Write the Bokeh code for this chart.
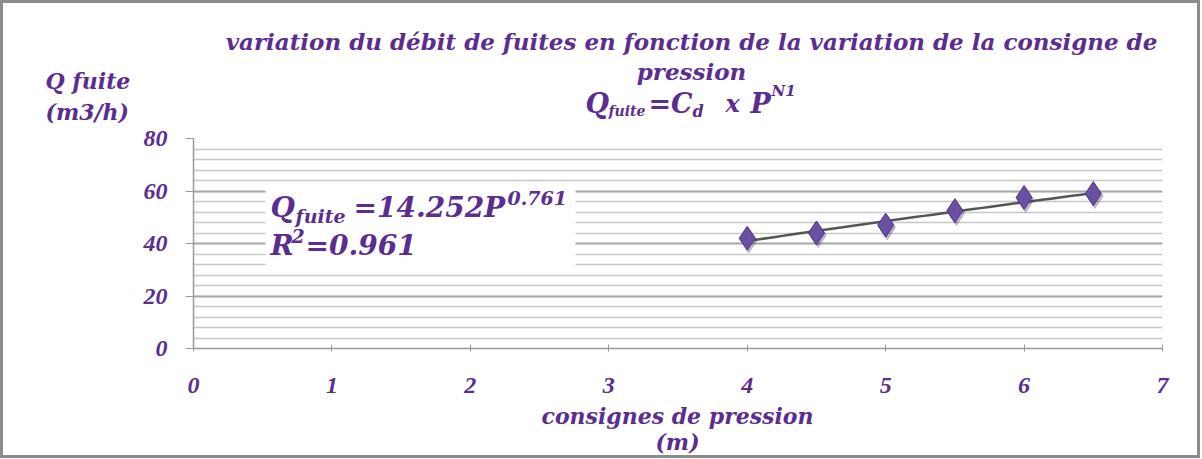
from bokeh.plotting import figure
from bokeh.layouts import column
from bokeh.models import Label, BoxAnnotation, FixedTicker
from bokeh.embed import file_html
from bokeh.resources import INLINE
import numpy as np

# data
pression = [4.0, 4.5, 5.0, 5.5, 6.0, 6.5]
q_fuite = [42.0, 44.0, 47.0, 52.5, 57.5, 59.0]
coef_cd = 14.252
exposant_n1 = 0.761
r2 = 0.961
x_ticks = [0, 1, 2, 3, 4, 5, 6, 7]
y_ticks = [0, 20, 40, 60, 80]

PURPLE = "#5b2d90"
SERIF = "Liberation Serif"
WIDE = "DejaVu Serif"
W = 1194


def no_align(f):
    if "frame_align" in f.properties():
        f.frame_align = False


def blank(h):
    f = figure(width=W, height=h, x_range=(0, W), y_range=(0, h),
               output_backend="svg", toolbar_location=None,
               x_axis_location=None, y_axis_location=None,
               min_border=0, min_border_left=0, min_border_right=0,
               min_border_top=0, min_border_bottom=0)
    f.grid.grid_line_color = None
    f.outline_line_color = None
    f.background_fill_color = "white"
    f.border_fill_color = "white"
    no_align(f)
    return f


def lab(fig, x, y, text, size, align="left", base="middle", font=SERIF, units="data"):
    fig.add_layout(Label(x=x, y=y, x_units=units, y_units=units, text=text,
                         text_font=font, text_font_style="bold italic", text_color=PURPLE,
                         text_font_size=size, text_align=align, text_baseline=base,
                         level="overlay"))


# ---------- top: title + y axis title ----------
top = blank(120)
lab(top, 688, 82, "variation du débit de fuites en fonction de la variation de la consigne de", "23px", "center", font=WIDE)
lab(top, 688, 52, "pression", "23px", "center", font=WIDE)
lab(top, 582, 20, "Q", "27px", font=WIDE)
lab(top, 605, 13, "fuite", "14px", font=WIDE)
lab(top, 645, 20, "=C", "27px", font=WIDE)
lab(top, 689, 12, "d", "16px", font=WIDE)
lab(top, 722, 20, "x", "24px", font=WIDE)
lab(top, 747, 20, "P", "27px", font=WIDE)
lab(top, 768, 33, "N1", "15px", font=WIDE)
lab(top, 42, 43, "Q fuite", "22px", font=WIDE)
lab(top, 42, 12, "(m3/h)", "22px", font=WIDE)

# ---------- main plot ----------
p = figure(width=W, height=280, x_range=(0, 7), y_range=(0, 80),
           output_backend="svg", toolbar_location=None,
           min_border_left=190, min_border_right=35,
           min_border_top=15, min_border_bottom=55)
no_align(p)
p.outline_line_color = None
p.background_fill_color = "white"
p.border_fill_color = "white"

p.xgrid.grid_line_color = None
p.ygrid.ticker = FixedTicker(ticks=y_ticks, minor_ticks=list(range(0, 81, 4)))
p.ygrid.grid_line_color = "#ababab"
p.ygrid.grid_line_width = 2
p.ygrid.minor_grid_line_color = "#c8c8c8"
p.ygrid.minor_grid_line_width = 1.5

p.xaxis.ticker = FixedTicker(ticks=x_ticks)
p.yaxis.ticker = FixedTicker(ticks=y_ticks)
for ax in (p.xaxis[0], p.yaxis[0]):
    ax.axis_line_color = "#9a9a9a"
    ax.axis_line_width = 1.5
    ax.major_tick_line_color = "#9a9a9a"
    ax.minor_tick_line_color = None
    ax.major_label_text_font = SERIF
    ax.major_label_text_font_style = "bold italic"
    ax.major_label_text_color = PURPLE
    ax.major_label_text_font_size = "24px"
p.xaxis.major_tick_in = 4
p.xaxis.major_tick_out = 3
p.xaxis.major_label_standoff = 26
p.yaxis.major_tick_in = 0
p.yaxis.major_tick_out = 8
p.yaxis.major_label_standoff = 18

# equation box
p.add_layout(BoxAnnotation(left=72, right=382, bottom=82, top=160,
                           left_units="screen", right_units="screen",
                           bottom_units="screen", top_units="screen",
                           fill_color="white", fill_alpha=1.0, line_color=None,
                           level="underlay"))

# trend line (power law from the displayed coefficients)
xt = np.linspace(min(pression), max(pression), 50)
yt = coef_cd * xt ** exposant_n1
p.line(xt, yt, line_color="#555555", line_width=2.5)

# markers with shadow
p.scatter([x + 0.012 for x in pression], [y - 0.9 for y in q_fuite], marker="diamond",
          size=26, fill_color="#3a2a55", fill_alpha=0.35, line_color=None)
p.scatter(pression, q_fuite, marker="diamond", size=24,
          fill_color="#6b4fa3", line_color="#4e3580", line_width=1)

# equation text
lab(p, 77, 141, "Q", "28px", font=WIDE, units="screen")
lab(p, 102, 133, "fuite", "19px", font=WIDE, units="screen")
lab(p, 160, 141, "=%.3fP" % coef_cd, "28px", font=WIDE, units="screen")
lab(p, 314, 151, "%.3f" % exposant_n1, "19px", font=WIDE, units="screen")
lab(p, 77, 103, "R", "28px", font=WIDE, units="screen")
lab(p, 98, 113, "2", "19px", font=WIDE, units="screen")
lab(p, 112, 103, "=%.3f" % r2, "28px", font=WIDE, units="screen")

# ---------- bottom: x axis title ----------
bot = blank(52)
lab(bot, 674, 40, "consignes de pression", "22px", "center", font=WIDE)
lab(bot, 674, 14, "(m)", "22px", "center", font=WIDE)

layout = column(top, p, bot, spacing=0)
layout.styles = {"border": "3px solid #8c8c8c"}
open("out.html", "w").write(file_html(layout, INLINE))
